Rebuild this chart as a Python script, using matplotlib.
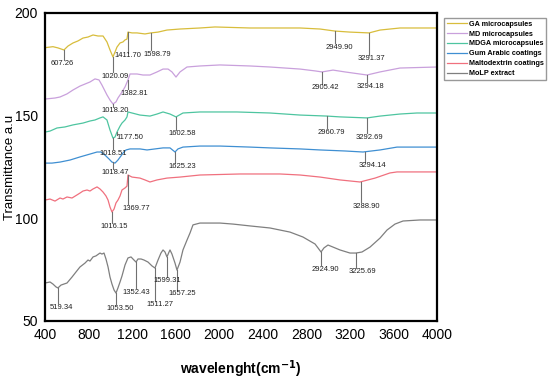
import numpy as np
import matplotlib
matplotlib.use('Agg')
import matplotlib.pyplot as plt

plt.rcParams['font.family'] = ['Liberation Sans', 'DejaVu Sans']

# spectra (wavenumber, transmittance)
ga_wn = [400, 473, 519, 574, 611, 657, 703, 749, 795, 841, 887, 933, 969, 997, 1024, 1043, 1061, 1089,
         1116, 1135, 1153, 1162, 1199, 1245, 1318, 1373, 1438, 1520, 1640, 1823, 1961, 2283, 2742, 2926,
         3063, 3201, 3376, 3477, 3660, 4000]
ga_t = [183.1, 183.6, 183.0, 182.0, 183.9, 185.4, 186.4, 187.8, 188.3, 189.3, 188.8, 188.8, 185.9, 182.0,
        178.6, 181.0, 183.4, 185.4, 185.9, 186.9, 187.3, 190.7, 190.3, 190.3, 189.8, 190.3, 190.7, 191.7,
        192.2, 192.7, 193.2, 192.7, 192.7, 192.2, 191.2, 190.7, 190.3, 191.7, 192.7, 192.7]

md_wn = [400, 492, 538, 602, 657, 721, 813, 859, 896, 923, 969, 997, 1024, 1052, 1070, 1107, 1135, 1162,
         1181, 1245, 1300, 1364, 1429, 1484, 1530, 1566, 1603, 1640, 1704, 1823, 2007, 2283, 2466, 2742,
         2880, 2944, 3045, 3155, 3357, 3477, 3660, 4000]
md_t = [158.1, 158.6, 159.1, 160.6, 162.5, 164.4, 166.4, 167.9, 167.4, 164.9, 160.1, 157.6, 155.7, 156.7,
        158.6, 161.5, 164.0, 167.4, 170.3, 170.3, 169.8, 169.8, 171.3, 172.7, 172.7, 171.3, 168.8, 171.3,
        173.7, 174.2, 174.7, 174.2, 173.7, 172.7, 171.8, 171.3, 172.2, 171.3, 169.8, 171.3, 173.2, 173.7]

mdga_wn = [400, 446, 510, 583, 657, 749, 813, 859, 905, 933, 969, 997, 1024, 1043, 1061, 1089, 1107, 1135,
           1153, 1162, 1199, 1272, 1364, 1429, 1484, 1548, 1603, 1667, 1823, 2163, 2466, 2742, 2990, 3109,
           3357, 3477, 3660, 3816, 4000]
mdga_t = [142.0, 142.5, 144.0, 144.5, 145.5, 146.4, 147.4, 147.9, 148.9, 149.4, 147.9, 143.0, 139.1, 139.6,
          142.0, 144.9, 146.4, 147.9, 149.4, 151.8, 151.3, 150.3, 149.8, 150.8, 151.8, 150.8, 149.4, 151.3,
          151.8, 151.8, 151.3, 150.3, 149.8, 149.4, 148.9, 149.8, 150.8, 151.3, 151.3]

gum_wn = [400, 464, 538, 630, 721, 813, 878, 914, 951, 988, 1015, 1043, 1070, 1098, 1116, 1144, 1181, 1272,
          1337, 1410, 1484, 1548, 1594, 1621, 1667, 1823, 2007, 2283, 2466, 2742, 2926, 3155, 3320, 3477,
          3633, 4000]
gum_t = [126.9, 126.9, 127.4, 128.4, 129.9, 131.3, 132.3, 132.3, 130.8, 128.9, 127.4, 126.9, 128.4, 130.4,
         131.8, 133.3, 133.8, 133.8, 133.3, 133.8, 134.3, 134.3, 132.3, 133.8, 134.7, 135.2, 135.2, 134.7,
         134.3, 133.8, 133.3, 132.8, 132.3, 133.3, 134.7, 134.7]

malto_wn = [400, 446, 492, 538, 565, 602, 648, 694, 721, 749, 786, 813, 841, 878, 905, 933, 960, 979, 997,
            1015, 1034, 1052, 1070, 1089, 1107, 1135, 1153, 1162, 1199, 1272, 1318, 1364, 1429, 1520, 1640,
            1823, 2191, 2558, 2742, 2926, 3109, 3293, 3431, 3568, 3633, 4000]
malto_t = [108.9, 109.4, 108.4, 109.9, 109.4, 110.4, 109.9, 111.4, 112.3, 113.3, 113.8, 113.3, 114.3, 115.3,
           114.3, 112.8, 110.9, 108.9, 105.5, 103.1, 104.5, 107.5, 108.9, 110.9, 113.8, 114.8, 115.7, 121.1,
           120.1, 119.6, 118.7, 117.7, 118.7, 119.6, 120.1, 121.1, 121.6, 121.6, 121.1, 120.1, 118.7, 117.7,
           119.6, 122.1, 122.6, 122.6]

molp_wn = [400, 446, 473, 501, 519, 547, 574, 602, 648, 685, 721, 767, 795, 813, 841, 868, 905, 923, 942,
           960, 979, 997, 1015, 1034, 1052, 1070, 1089, 1107, 1135, 1162, 1190, 1217, 1236, 1254, 1282, 1309,
           1346, 1383, 1410, 1438, 1465, 1484, 1502, 1520, 1539, 1548, 1566, 1594, 1612, 1640, 1667, 1704,
           1732, 1759, 1823, 1888, 2007, 2127, 2283, 2466, 2650, 2769, 2834, 2880, 2907, 2935, 2962, 2999,
           3045, 3109, 3201, 3256, 3311, 3385, 3477, 3541, 3614, 3688, 3844, 4000]
molp_t = [68.5, 69.0, 68.0, 66.6, 66.1, 67.5, 68.0, 68.5, 71.4, 73.9, 76.3, 78.2, 79.7, 79.2, 81.2, 81.7,
          83.1, 82.6, 83.1, 80.2, 76.3, 71.4, 68.0, 65.1, 63.6, 66.1, 69.0, 71.9, 77.3, 80.7, 81.2, 79.7,
          78.7, 80.2, 80.2, 79.7, 78.7, 76.8, 75.8, 79.7, 83.1, 84.6, 83.6, 81.2, 83.6, 84.6, 82.6, 78.2,
          74.8, 78.7, 84.6, 89.4, 92.9, 96.8, 97.7, 97.7, 97.7, 97.2, 96.3, 95.3, 93.3, 90.9, 88.9, 87.5,
          85.6, 83.6, 85.6, 87.0, 86.0, 84.6, 83.1, 83.1, 83.6, 86.0, 90.4, 94.3, 97.2, 98.7, 99.2, 99.2]

labels = ['GA microcapsules', 'MD microcapsules', 'MDGA microcapsules',
          'Gum Arabic coatings', 'Maltodextrin coatings', 'MoLP extract']
colors = ['#d8bd3c', '#c9a0dc', '#4ec5a0', '#3f8fd2', '#f0707e', '#7f7f7f']

# peak markers: (line position, line bottom, label x, label y, text)
ga_peaks = [(574, 177.1, 556, 175.2, '607.26'), (1024, 171.3, 1043, 169.3, '1020.09'),
            (1162, 180.5, 1162, 179.1, '1411.70'), (1373, 182.0, 1429, 180.0, '1598.79'),
            (3063, 185.4, 3100, 183.4, '2949.90'), (3376, 179.5, 3394, 177.6, '3291.37')]
md_peaks = [(1024, 154.2, 1043, 152.3, '1018.20'), (1162, 163.0, 1217, 161.0, '1382.81'),
            (2944, 165.4, 2971, 163.5, '2905.42'), (3357, 166.4, 3385, 164.4, '3294.18')]
mdga_peaks = [(1024, 133.8, 1024, 131.8, '1018.51'), (1061, 140.6, 1181, 139.6, '1177.50'),
              (1603, 143.0, 1658, 141.1, '1602.58'), (2990, 144.0, 3027, 142.0, '2960.79'),
              (3357, 141.6, 3376, 139.6, '3292.69')]
gum_peaks = [(1024, 124.0, 1043, 122.1, '1018.47'), (1594, 127.0, 1658, 125.0, '1625.23'),
             (3339, 127.4, 3403, 125.5, '3294.14')]
malto_peaks = [(1015, 97.7, 1034, 95.8, '1016.15'), (1162, 107.0, 1236, 105.0, '1369.77'),
               (3302, 108.0, 3348, 106.0, '3288.90')]
molp_peaks = [(519, 58.8, 547, 56.8, '519.34'), (1052, 58.3, 1089, 56.3, '1053.50'),
              (1236, 66.1, 1236, 64.1, '1352.43'), (1410, 59.7, 1456, 57.8, '1511.27'),
              (1520, 71.4, 1520, 69.5, '1599.31'), (1612, 65.1, 1658, 63.2, '1657.25'),
              (2935, 77.3, 2971, 75.3, '2924.90'), (3256, 75.8, 3311, 73.9, '3225.69')]

series = [(ga_wn, ga_t, ga_peaks), (md_wn, md_t, md_peaks), (mdga_wn, mdga_t, mdga_peaks),
          (gum_wn, gum_t, gum_peaks), (malto_wn, malto_t, malto_peaks), (molp_wn, molp_t, molp_peaks)]

fig = plt.figure(figsize=(5.5, 3.81), dpi=100)
ax = fig.add_axes([45 / 550, 1 - 321 / 381, 392 / 550, 308 / 381])

handles = []
for (wn, t, peaks), lab, col in zip(series, labels, colors):
    h, = ax.plot(wn, t, color=col, lw=0.9, label=lab)
    handles.append(h)
    for x, yb, lx, ly, txt in peaks:
        ytop = np.interp(x, wn, t)
        ax.plot([x, x], [ytop, yb], color='#707070', lw=0.8)
        ax.text(lx, ly, txt, fontsize=5.5, ha='center', va='center', color='#202020')

ax.set_xlim(400, 4000)
ax.set_ylim(50, 200)
ax.set_xticks(np.arange(400, 4001, 400))
ax.set_yticks([50, 100, 150, 200])
ax.tick_params(length=0, labelsize=10, pad=5)
for sp in ax.spines.values():
    sp.set_linewidth(1.6)

ax.set_xlabel('wavelenght(cm$^{\\mathbf{-1}}$)', fontsize=10, fontweight='bold', labelpad=12)
ax.set_ylabel('Transmittance a.u', fontsize=9.5)
ax.yaxis.set_label_coords(-0.075, 0.5)

fig.legend(handles=handles, loc='upper left', bbox_to_anchor=(444 / 550, 1 - 18 / 381),
           prop={'weight': 'bold', 'size': 5.2}, frameon=True, fancybox=False,
           edgecolor='#808080', handlelength=2.8, handletextpad=0.3, labelspacing=0.4,
           borderpad=0.35, borderaxespad=0)

fig.savefig('out.png', dpi=100)
